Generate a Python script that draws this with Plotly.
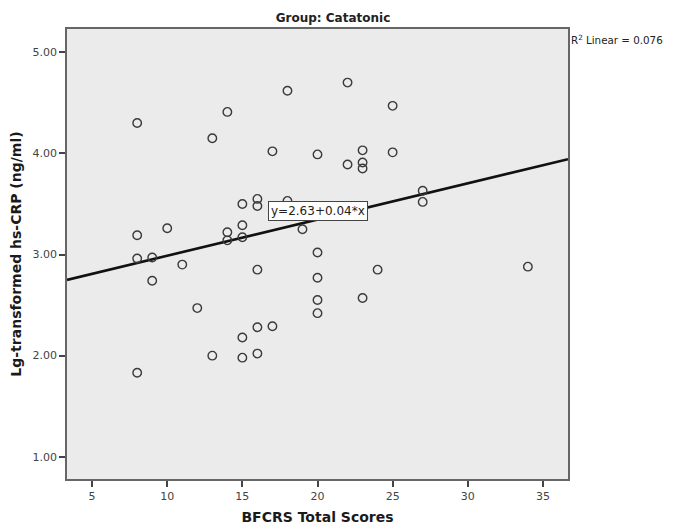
import plotly.graph_objects as go

# Data
bfcrs_scores = [8, 14, 13, 18, 17, 20, 15, 16, 16, 18, 10, 8, 15, 14, 14, 15, 19, 20, 8, 9,
                22, 25, 23, 25, 22, 23, 23, 27, 27, 11, 9, 16, 20, 20, 20, 12, 16, 17, 15, 13,
                15, 16, 8, 24, 23, 34]
lg_crp = [4.30, 4.41, 4.15, 4.62, 4.02, 3.99, 3.50, 3.55, 3.48, 3.53, 3.26, 3.19, 3.29, 3.22,
          3.14, 3.17, 3.25, 3.02, 2.96, 2.97, 4.70, 4.47, 4.03, 4.01, 3.89, 3.91, 3.85, 3.63,
          3.52, 2.90, 2.74, 2.85, 2.77, 2.55, 2.42, 2.47, 2.28, 2.29, 2.18, 2.00, 1.98, 2.02,
          1.83, 2.85, 2.57, 2.88]

fit_intercept = 2.63
fit_slope = 0.0358
fit_label = "y=2.63+0.04*x"
r2_label = "R<sup>2</sup> Linear = 0.076"

x_range = [3.33, 36.67]
y_range = [0.78, 5.23]
x_ticks = [5, 10, 15, 20, 25, 30, 35]
y_ticks = [1, 2, 3, 4, 5]
y_tick_text = ["1.00", "2.00", "3.00", "4.00", "5.00"]

FONT = "DejaVu Sans"
# the page body adds an 8 px offset; size the figure so the plot lands where the reference has it
W, H = 665, 521

fig = go.Figure()

fig.add_trace(go.Scatter(
    x=x_range,
    y=[fit_intercept + fit_slope * v for v in x_range],
    mode="lines",
    line=dict(color="#111111", width=2.6),
    hoverinfo="skip",
    showlegend=False,
))

fig.add_trace(go.Scatter(
    x=bfcrs_scores, y=lg_crp,
    mode="markers",
    marker=dict(symbol="circle-open", size=8.5, color="#3a3a3a", line=dict(width=1.4, color="#3a3a3a")),
    showlegend=False,
))

fig.update_layout(
    width=W, height=H,
    margin=dict(l=59, r=105, t=21, b=50, autoexpand=False),
    paper_bgcolor="white",
    plot_bgcolor="#ebebeb",
    font=dict(family=FONT, color="#333333", size=11),
    title=dict(text="<b>Group: Catatonic</b>", x=325 / W, xanchor="center",
               y=1 - 9.5 / H, yanchor="middle",
               font=dict(family=FONT, size=12, color="#222222")),
    showlegend=False,
)

fig.update_xaxes(
    range=x_range, tickvals=x_ticks, showgrid=False, zeroline=False, automargin=False,
    showline=True, mirror=True, linecolor="#666666", linewidth=1.5,
    ticks="outside", ticklen=6, tickwidth=1.5, tickcolor="#444444",
    tickfont=dict(family=FONT, size=11, color="#444444"),
    title=dict(text="<b>BFCRS Total Scores</b>", standoff=10,
               font=dict(family=FONT, size=14, color="#1a1a1a")),
)
fig.update_yaxes(
    range=y_range, tickvals=y_ticks, ticktext=y_tick_text, showgrid=False, zeroline=False,
    automargin=False,
    showline=True, mirror=True, linecolor="#666666", linewidth=1.5,
    ticks="outside", ticklen=6, tickwidth=1.5, tickcolor="#444444",
    tickfont=dict(family=FONT, size=11, color="#444444"),
    title=dict(text="<b>Lg-transformed hs-CRP (ng/ml)</b>", standoff=10,
               font=dict(family=FONT, size=14, color="#1a1a1a")),
)

fig.add_annotation(
    x=(x_range[0] + x_range[1]) / 2, y=3.43, xref="x", yref="y",
    text=fit_label, showarrow=False,
    font=dict(family=FONT, size=12, color="#222222"),
    bgcolor="white", bordercolor="#444444", borderwidth=1, borderpad=2,
)

fig.add_annotation(
    x=1, y=1, xref="paper", yref="paper", xanchor="left", yanchor="top",
    xshift=1, yshift=-2,
    text=r2_label, showarrow=False,
    font=dict(family=FONT, size=10.3, color="#222222"),
)

fig.write_html("out.html")
